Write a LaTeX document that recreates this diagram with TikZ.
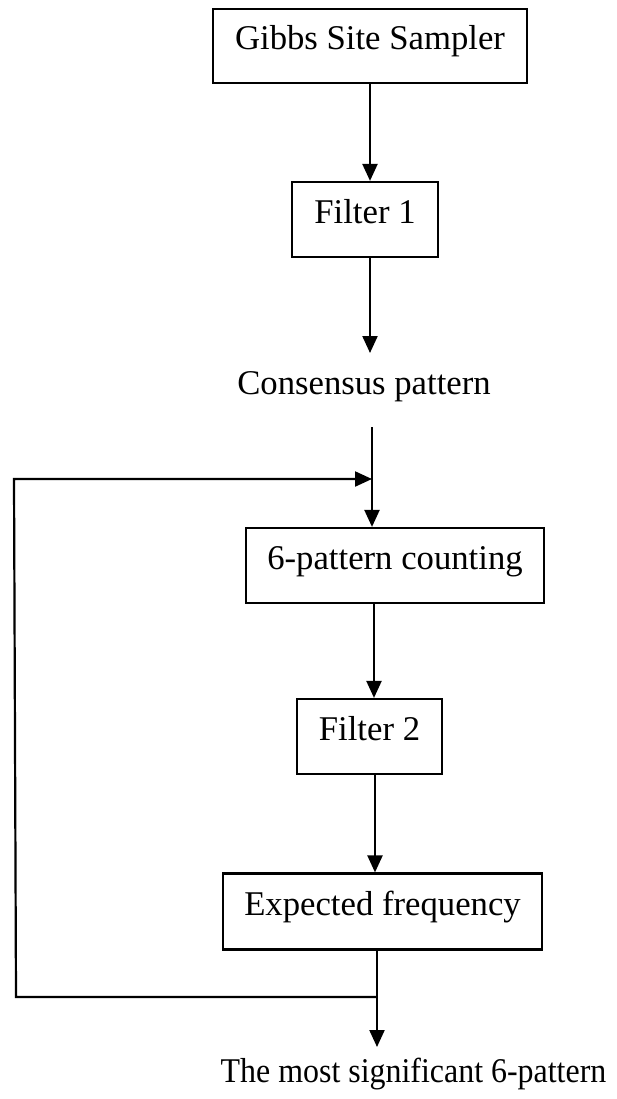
\documentclass[tikz,border=0pt]{standalone}
\usepackage{fontspec}
\setmainfont{Liberation Serif}
\usetikzlibrary{arrows.meta}
\begin{document}
\begin{tikzpicture}[x=1pt,y=-1pt,
  txt/.style={font=\fontsize{34.7}{40}\selectfont},
  box/.style={txt, draw, line width=2.2pt, inner sep=0pt, text height=24pt, text depth=16pt},
  lbl/.style={txt, inner sep=0pt},
  ln/.style={line width=2.2pt},
  arr/.style={ln, -{Triangle[length=17pt,width=15pt]}}]
\useasboundingbox (0,0) rectangle (616,1099);
% boxes
\node[box, minimum width=314pt, minimum height=74pt] (b1) at (370,46) {Gibbs Site Sampler};
\node[box, minimum width=146pt, minimum height=75pt] (f1) at (365,219.5) {Filter 1};
\node[lbl, anchor=base] (cp) at (364,394) {Consensus pattern};
\node[box, minimum width=298pt, minimum height=75pt] (p6) at (395,565.5) {6-pattern counting};
\node[box, minimum width=145pt, minimum height=75pt] (f2) at (369.5,736.5) {Filter 2};
\node[box, minimum width=319pt, minimum height=76pt] (ef) at (382.5,911.5) {Expected frequency};
\node[lbl, anchor=base] (ms) at (413.5,1082) {\scalebox{0.92}[1]{The most significant 6-pattern}};
% helper coordinates
\coordinate (x1) at (370,0);
\coordinate (s2) at (372,427);
\coordinate (j) at (372,479);
\coordinate (x3) at (374,0);
\coordinate (x4) at (375,0);
\coordinate (fb) at (377,997);
\coordinate (t5) at (377,1047);
\coordinate (fbl) at (16,997);
\coordinate (ftl) at (14,479);
\coordinate (t1) at (370,353);
% connectors
\draw[arr] (b1.south -| x1) -- (f1.north -| x1);
\draw[arr] (f1.south -| x1) -- (t1);
\draw[arr] (s2) -- (p6.north -| s2);
\draw[arr] (p6.south -| x3) -- (f2.north -| x3);
\draw[arr] (f2.south -| x4) -- (ef.north -| x4);
\draw[arr] (ef.south -| fb) -- (t5);
\draw[arr] (fb) -- (fbl) -- (ftl) -- (j);
\end{tikzpicture}
\end{document}
